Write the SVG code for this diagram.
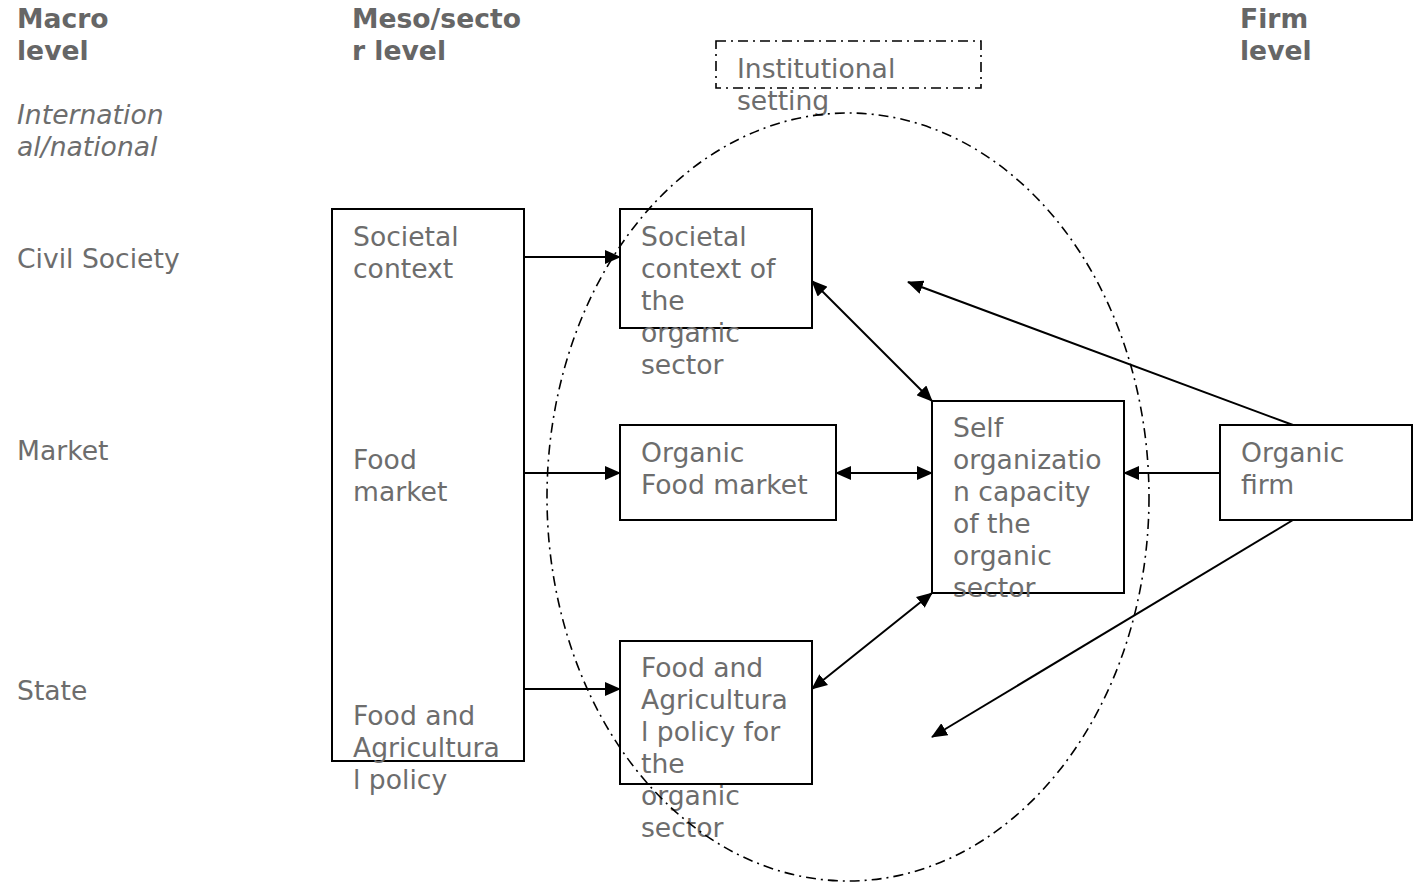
<svg xmlns="http://www.w3.org/2000/svg" width="1413" height="883" viewBox="0 0 1413 883">
<style>
text{font-family:"DejaVu Sans","Verdana",sans-serif;font-size:26.6px;fill:#6d6d6d}
.b{font-weight:bold;fill:#666}
.i{font-style:italic}
.box{fill:none;stroke:#000;stroke-width:2}
.dd{fill:none;stroke:#000;stroke-width:1.6;stroke-dasharray:10 5 2 5}
.c{stroke:#000;stroke-width:2;fill:none}
</style>
<defs>
<marker id="ah" markerUnits="userSpaceOnUse" markerWidth="16" markerHeight="14" refX="15" refY="7" orient="auto-start-reverse">
<path d="M0,0 L16,7 L0,14 z" fill="#000"/>
</marker>
</defs>
<g id="labels">
<text class="b" x="17" y="28">Macro</text>
<text class="b" x="17" y="60">level</text>
<text class="i" x="17" y="124">Internation</text>
<text class="i" x="17" y="156">al/national</text>
<text x="17" y="268">Civil Society</text>
<text x="17" y="460">Market</text>
<text x="17" y="700">State</text>
<text class="b" x="352" y="28">Meso/secto</text>
<text class="b" x="352" y="60">r level</text>
<text class="b" x="1240" y="28">Firm</text>
<text class="b" x="1240" y="60">level</text>
</g>
<g id="institutional">
<rect class="dd" x="716" y="41" width="265" height="47"/>
<text x="737" y="78">Institutional</text>
<text x="737" y="110">setting</text>
</g>
<g id="macro-box">
<rect class="box" x="332" y="209" width="192" height="552"/>
<text x="353" y="246">Societal</text>
<text x="353" y="278">context</text>
<text x="353" y="469">Food</text>
<text x="353" y="501">market</text>
<text x="353" y="725">Food and</text>
<text x="353" y="757">Agricultura</text>
<text x="353" y="789">l policy</text>
</g>
<g id="societal-organic">
<rect class="box" x="620" y="209" width="192" height="119"/>
<text x="641" y="246">Societal</text>
<text x="641" y="278">context of</text>
<text x="641" y="310">the</text>
<text x="641" y="342">organic</text>
<text x="641" y="374">sector</text>
</g>
<g id="organic-food-market">
<rect class="box" x="620" y="425" width="216" height="95"/>
<text x="641" y="462">Organic</text>
<text x="641" y="494">Food market</text>
</g>
<g id="policy-organic">
<rect class="box" x="620" y="641" width="192" height="143"/>
<text x="641" y="677">Food and</text>
<text x="641" y="709">Agricultura</text>
<text x="641" y="741">l policy for</text>
<text x="641" y="773">the</text>
<text x="641" y="805">organic</text>
<text x="641" y="837">sector</text>
</g>
<g id="self-organization">
<rect class="box" x="932" y="401" width="192" height="192"/>
<text x="953" y="437">Self</text>
<text x="953" y="469">organizatio</text>
<text x="953" y="501">n capacity</text>
<text x="953" y="533">of the</text>
<text x="953" y="565">organic</text>
<text x="953" y="597">sector</text>
</g>
<g id="organic-firm">
<rect class="box" x="1220" y="425" width="192" height="95"/>
<text x="1241" y="462">Organic</text>
<text x="1241" y="494">firm</text>
</g>
<g id="boundary">
<ellipse class="dd" cx="848" cy="497" rx="301" ry="384"/>
</g>
<g id="connectors">
<line class="c" x1="524" y1="257" x2="620" y2="257" marker-end="url(#ah)"/>
<line class="c" x1="524" y1="473" x2="620" y2="473" marker-end="url(#ah)"/>
<line class="c" x1="524" y1="689" x2="620" y2="689" marker-end="url(#ah)"/>
<line class="c" x1="812" y1="281" x2="932" y2="401" marker-start="url(#ah)" marker-end="url(#ah)"/>
<line class="c" x1="836" y1="473" x2="932" y2="473" marker-start="url(#ah)" marker-end="url(#ah)"/>
<line class="c" x1="812" y1="689" x2="932" y2="593" marker-start="url(#ah)" marker-end="url(#ah)"/>
<line class="c" x1="1220" y1="473" x2="1124" y2="473" marker-end="url(#ah)"/>
<line class="c" x1="1293" y1="425" x2="908" y2="282" marker-end="url(#ah)"/>
<line class="c" x1="1293" y1="520" x2="932" y2="737" marker-end="url(#ah)"/>
</g>
</svg>
